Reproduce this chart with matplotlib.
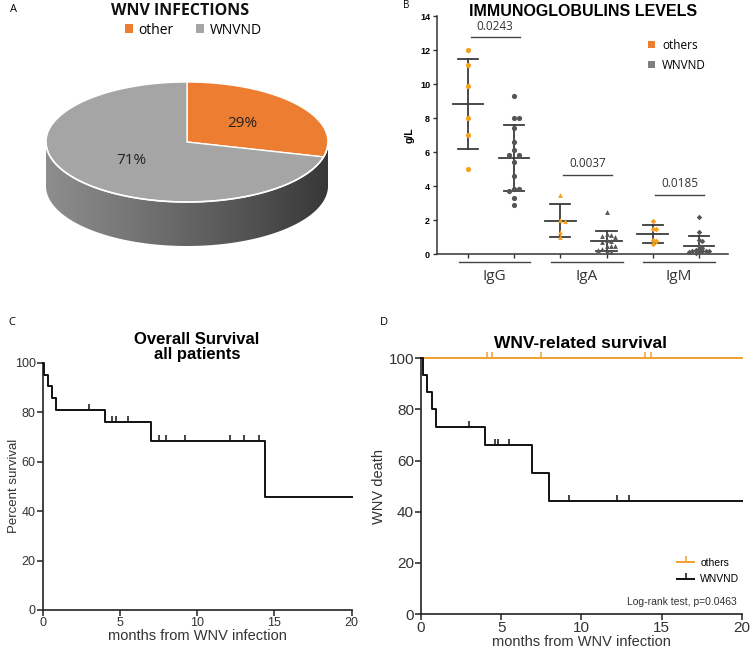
import numpy as np
import matplotlib
matplotlib.use("Agg")
import matplotlib.pyplot as plt
from matplotlib.patches import Polygon, Patch
from matplotlib.lines import Line2D
from matplotlib.colors import LinearSegmentedColormap

plt.rcParams['font.family'] = ['Liberation Sans', 'DejaVu Sans']

# ---------------------------------------------------------------------------
# data
# ---------------------------------------------------------------------------
pie_labels = ["other", "WNVND"]
pie_shares = [29, 71]

ig_classes = ["IgG", "IgA", "IgM"]
igg_others = [12.0, 11.1, 9.9, 8.0, 7.0, 5.0]
igg_wnvnd = [9.3, 8.0, 8.0, 7.4, 6.6, 6.1, 5.85, 5.85, 5.4, 4.6, 3.8, 3.8, 3.7, 3.3, 2.9]
iga_others = [3.5, 2.0, 1.95, 1.3, 1.0]
iga_wnvnd = [2.5, 1.15, 1.1, 1.05, 1.0, 0.8, 0.75, 0.7, 0.5, 0.45, 0.45, 0.3, 0.25, 0.2, 0.1]
igm_others = [1.95, 1.45, 1.45, 0.8, 0.75, 0.6]
igm_wnvnd = [2.2, 1.3, 0.8, 0.75, 0.5, 0.35, 0.3, 0.25, 0.2, 0.2, 0.15, 0.15, 0.1, 0.1, 0.05]
ig_pvalues = ["0.0243", "0.0037", "0.0185"]
ig_bracket_y = [12.75, 4.67, 3.5]

# overall survival, all patients
os_times = [0, 0.1, 0.32, 0.62, 0.84, 4.0, 7.0, 14.4, 20]
os_surv = [100, 95.2, 90.5, 85.7, 81.0, 75.9, 68.3, 45.5, 45.5]
os_censored = [3.0, 4.5, 4.75, 5.5, 7.5, 8.0, 9.2, 12.1, 13.0, 14.0]

# WNV-related survival
oth_times = [0, 20]
oth_surv = [100, 100]
oth_censored = [4.1, 4.45, 7.5, 14.0, 14.35]
wnd_times = [0, 0.15, 0.35, 0.67, 0.92, 4.0, 6.95, 8.0, 20]
wnd_surv = [100, 93.3, 86.7, 80.0, 73.3, 66.0, 55.0, 44.0, 44.0]
wnd_censored = [3.0, 4.6, 4.8, 5.5, 9.2, 12.2, 13.0]

ORANGE = "#ed7d31"
PGRAY = "#a5a5a5"
DOT_OR = "#f4a11e"
DOT_GR = "#555555"
KM_OR = "#f0a030"

W, H = 750, 655


def frac(x0, y0, x1, y1):
    """pixel box (top-left origin) -> figure fraction rect"""
    return [x0 / W, 1 - y1 / H, (x1 - x0) / W, (y1 - y0) / H]


def step_value(times, surv, t):
    idx = np.searchsorted(times, t, side="right") - 1
    return np.asarray(surv)[idx]


def swarm(vals, d=4.8, xs=46.2, ys=17.0):
    """simple beeswarm: horizontal offsets (data units) so dots don't overlap"""
    vals = np.asarray(vals, float)
    off = np.zeros(len(vals))
    placed = []
    step = d / xs
    for i in np.argsort(vals)[::-1]:
        for k in [0, 1, -1, 2, -2, 3, -3, 4, -4]:
            o = k * step
            if all(np.hypot((o - po) * xs, (vals[i] - pv) * ys) >= d for po, pv in placed):
                break
        off[i] = o
        placed.append((o, vals[i]))
    return off


fig = plt.figure(figsize=(7.5, 6.55), dpi=100)

# ---------------------------------------------------------------------------
# A: pie
# ---------------------------------------------------------------------------
axA = fig.add_axes(frac(0, 0, 375, 270))
axA.axis("off")

cx, cy, rx, ry, depth = 187, 142, 141, 60, 44
t = np.linspace(np.pi, 2 * np.pi, 200)
ex = cx + rx * np.cos(t)
ey = cy - ry * np.sin(t)
side = Polygon(np.column_stack([np.r_[ex, ex[::-1]], np.r_[ey, ey[::-1] + depth]]),
               closed=True, facecolor="none", edgecolor="none")
axA.add_patch(side)
cmap = LinearSegmentedColormap.from_list("side", ["#8e8e8e", "#737373", "#575757", "#383838"])
im = axA.imshow(np.linspace(0, 1, 256).reshape(1, -1), extent=[cx - rx, cx + rx, cy + ry + depth, cy],
                cmap=cmap, aspect="auto", zorder=1)
im.set_clip_path(side)
axA.set_xlim(0, 375)
axA.set_ylim(270, 0)

bounds = 90 - 360 * np.r_[0, np.cumsum(pie_shares)] / sum(pie_shares)
for i, col in enumerate([ORANGE, PGRAY]):
    a = np.radians(np.linspace(bounds[i], bounds[i + 1], 200))
    px = np.r_[cx, cx + rx * np.cos(a)]
    py = np.r_[cy, cy - ry * np.sin(a)]
    axA.add_patch(Polygon(np.column_stack([px, py]), closed=True, facecolor=col,
                          edgecolor="white", lw=1.0, zorder=2))
    mid = np.radians((bounds[i] + bounds[i + 1]) / 2)
    axA.text(cx + 0.5 * rx * np.cos(mid), cy - 0.5 * ry * np.sin(mid),
             f"{pie_shares[i]}%", ha="center", va="center", fontsize=11,
             family="Open Sans", color="#222222", zorder=3)
axA.plot(ex, ey, color="white", lw=1.2, zorder=3)

axA.text(180, 11, "WNV INFECTIONS", ha="center", va="center", fontsize=11.5,
         family="Open Sans", fontweight="bold", color="#111111")
handles = [Patch(facecolor=c, edgecolor="none") for c in [ORANGE, PGRAY]]
axA.legend(handles, pie_labels, ncol=2, loc="center", bbox_to_anchor=(0.515, 0.888),
           frameon=False, handlelength=0.6, handleheight=0.6, handletextpad=0.4,
           columnspacing=1.6, prop={"family": "Open Sans", "size": 10})
fig.text(10 / W, 1 - 9 / H, "A", fontsize=8, family="Open Sans", va="center")

# ---------------------------------------------------------------------------
# B: immunoglobulins
# ---------------------------------------------------------------------------
axB = fig.add_axes(frac(437, 16, 728, 254))
groups = [(igg_others, igg_wnvnd, "o", 14, 4.8), (iga_others, iga_wnvnd, "^", 12, 4.4),
          (igm_others, igm_wnvnd, "D", 8, 3.4)]
for i, (oth, wnd, mk, ms, dd) in enumerate(groups):
    for j, (vals, col) in enumerate([(oth, DOT_OR), (wnd, DOT_GR)]):
        xpos = 2 * i + j
        vals = np.asarray(vals)
        axB.scatter(xpos + swarm(vals, dd), vals, marker=mk, s=ms, color=col, zorder=3,
                    linewidths=0, clip_on=False)
        m, sd = vals.mean(), vals.std(ddof=1)
        axB.plot([xpos - 0.33, xpos + 0.33], [m, m], color="#3c3c3c", lw=1.3, zorder=2)
        axB.plot([xpos, xpos], [max(m - sd, 0), m + sd], color="#3c3c3c", lw=1.3, zorder=2)
        for e in (m - sd, m + sd):
            if e > 0:
                axB.plot([xpos - 0.22, xpos + 0.22], [e, e], color="#3c3c3c", lw=1.3, zorder=2)
    yb = ig_bracket_y[i]
    axB.plot([2 * i + 0.06, 2 * i + 1.12], [yb, yb], color="#444444", lw=1.0)
    axB.text(2 * i + 0.59, yb + 0.25, ig_pvalues[i], ha="center", va="bottom",
             fontsize=8.5, family="Open Sans", color="#333333")
    axB.plot([2 * i - 0.2, 2 * i + 1.35], [-0.47, -0.47], color="#444444", lw=1.0, clip_on=False)
    axB.text(2 * i + 0.57, -1.3, ig_classes[i], ha="center", va="center", fontsize=11,
             family="Open Sans", color="#333333")

axB.set_xlim(-0.67, 5.63)
axB.set_ylim(0, 14)
axB.set_xticks(range(6))
axB.set_xticklabels([])
axB.set_yticks(range(0, 15, 2))
for s in ["top", "right"]:
    axB.spines[s].set_visible(False)
for s in ["left", "bottom"]:
    axB.spines[s].set_linewidth(1.1)
    axB.spines[s].set_color("#333333")
axB.tick_params(axis="y", labelsize=6.5, length=3, width=1, color="#333333", pad=2)
axB.tick_params(axis="x", length=3, width=1, color="#333333")
for lab in axB.get_yticklabels():
    lab.set_fontweight("bold")
axB.set_ylabel("g/L", fontsize=7.5, fontweight="bold", labelpad=4)
axB.legend([Patch(facecolor=ORANGE, edgecolor="none"), Patch(facecolor="#7f7f7f", edgecolor="none")],
           ["others", "WNVND"], loc="upper left", bbox_to_anchor=(0.69, 0.95), frameon=False,
           handlelength=0.55, handleheight=0.55, handletextpad=0.6, labelspacing=0.6,
           prop={"family": "Open Sans", "size": 8.5})
fig.text(583 / W, 1 - 11 / H, "IMMUNOGLOBULINS LEVELS", ha="center", va="center",
         fontsize=11.5, fontweight="bold")
fig.text(403 / W, 1 - 5 / H, "B", fontsize=7, family="Open Sans", va="center")


# ---------------------------------------------------------------------------
# C / D: survival
# ---------------------------------------------------------------------------
def km_axes(ax, ylabel, ticksize, ylabsize, labelpad):
    ax.set_xlim(0, 20)
    ax.set_ylim(0, 100)
    ax.set_xticks([0, 5, 10, 15, 20])
    ax.set_yticks(range(0, 101, 20))
    for s in ["top", "right"]:
        ax.spines[s].set_visible(False)
    for s in ["left", "bottom"]:
        ax.spines[s].set_linewidth(1.2)
        ax.spines[s].set_color("#222222")
    ax.tick_params(labelsize=ticksize, length=4, width=1.1, color="#222222", pad=1,
                   labelcolor="#333333")
    ax.set_xlabel("months from WNV infection", fontsize=10.5, labelpad=0, color="#333333")
    ax.set_ylabel(ylabel, fontsize=ylabsize, labelpad=labelpad, color="#333333")


def km_curve(ax, times, surv, cens, color):
    ax.step(times, surv, where="post", color=color, lw=1.4, clip_on=False, zorder=3)
    ax.plot(cens, step_value(times, surv, cens), linestyle="none", marker=2,
            markersize=4, mew=1.1, color=color, clip_on=False, zorder=3)


axC = fig.add_axes(frac(42.7, 362.7, 351.7, 610))
km_curve(axC, os_times, os_surv, os_censored, "#111111")
km_axes(axC, "Percent survival", 9, 9.5, 2)
axC.yaxis.set_label_coords(-0.072, 0.5)
fig.text(197 / W, 1 - 347 / H, "Overall Survival\nall patients", ha="center", va="center",
         fontsize=12, fontweight="bold", linespacing=1.05)
fig.text(8 / W, 1 - 322 / H, "C", fontsize=8, family="Open Sans", va="center")

axD = fig.add_axes(frac(421, 358.3, 741.7, 614))
km_curve(axD, oth_times, oth_surv, oth_censored, KM_OR)
km_curve(axD, wnd_times, wnd_surv, wnd_censored, "#111111")
km_axes(axD, "WNV death", 11, 10.5, 2)
legD = [Line2D([], [], color=KM_OR, lw=1.4, marker=2, markersize=4, mew=1.1),
        Line2D([], [], color="#111111", lw=1.4, marker=2, markersize=4, mew=1.1)]
axD.legend(legD, ["others", "WNVND"], loc="lower left", bbox_to_anchor=(0.77, 0.08),
           frameon=False, handlelength=1.6, handletextpad=0.6, labelspacing=0.6,
           numpoints=1, prop={"size": 7.5})
axD.text(0.985, 0.045, "Log-rank test, p=0.0463", transform=axD.transAxes, ha="right",
         va="center", fontsize=7.5, color="#333333")
fig.text(581 / W, 1 - 343 / H, "WNV-related survival", ha="center", va="center",
         fontsize=12.5, fontweight="bold")
fig.text(380 / W, 1 - 322 / H, "D", fontsize=8, family="Open Sans", va="center")

fig.savefig("out.png", dpi=100)
